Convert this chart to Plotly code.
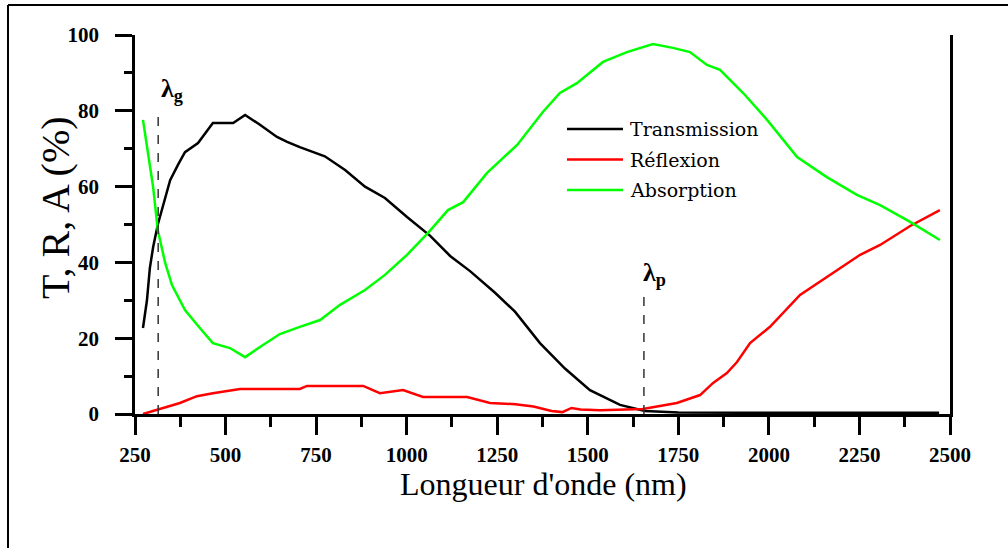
import plotly.graph_objects as go

# ---------------- data ----------------
wl_T = [272, 283, 291, 300, 313, 333, 347, 370, 388, 424, 465, 521, 554, 595, 642, 670, 705,
        774, 830, 885, 940, 1001, 1065, 1120, 1175, 1244, 1299, 1368, 1437, 1506, 1589, 1658,
        1750, 2000, 2250, 2470]
trans = [22.7, 30, 38.5, 44, 50, 56.5, 61.7, 66, 69.1, 71.5, 76.8, 76.8, 78.9, 76.3, 73.1, 71.8, 70.4,
         68.0, 64.4, 60, 57, 52, 47, 41.7, 37.7, 32, 27, 18.7, 12, 6.3, 2.4, 0.8,
         0.4, 0.3, 0.3, 0.3]

wl_R = [272, 374, 421, 465, 540, 603, 705, 725, 880, 926, 990, 1045, 1167, 1230, 1300, 1350,
        1400, 1430, 1455, 1480, 1534, 1652, 1746, 1810, 1846, 1884, 1912, 1948, 2003, 2086,
        2169, 2252, 2307, 2390, 2472]
refl = [0, 2.9, 4.7, 5.5, 6.6, 6.6, 6.6, 7.4, 7.4, 5.5, 6.3, 4.5, 4.5, 2.9, 2.6, 2.0,
        0.8, 0.5, 1.6, 1.2, 1.0, 1.3, 2.9, 5.0, 8.2, 10.8, 13.7, 18.7, 23, 31.4,
        36.7, 42, 44.6, 49.6, 53.8]

wl_A = [272, 300, 313, 333, 352, 388, 429, 465, 512, 554, 595, 650, 705, 761, 816, 885, 940,
        1001, 1059, 1114, 1156, 1222, 1305, 1376, 1423, 1470, 1542, 1608, 1680, 1735, 1782,
        1829, 1865, 1929, 1995, 2078, 2160, 2243, 2307, 2390, 2472]
absor = [77.6, 59.9, 48.5, 40, 34, 27.4, 22.7, 18.7, 17.4, 15, 17.7, 21.1, 23, 24.8, 28.8, 32.7, 36.7,
         42, 47.8, 53.8, 55.9, 63.6, 71, 79.7, 84.7, 87.3, 92.9, 95.5, 97.6, 96.6, 95.5,
         92.1, 90.8, 84.7, 77.6, 67.8, 62.5, 57.8, 55.1, 50.7, 45.9]

series_names = ["Transmission", "Réflexion", "Absorption"]
series_colors = ["#000000", "#ff0000", "#00ff00"]

x_ticks = [250, 500, 750, 1000, 1250, 1500, 1750, 2000, 2250, 2500]
y_ticks = [0, 20, 40, 60, 80, 100]

lambda_g = 314      # nm
lambda_g_top = 79.4
lambda_p = 1655     # nm
lambda_p_top = 31.9

# ---------------- layout geometry (pixels) ----------------
W, H = 1008, 548
L, R, T, B = 135, 950, 35, 414
SERIF = "'Liberation Serif', 'Times New Roman', Times, serif"


def px(xp):
    return (xp - L) / (R - L)


def py(yp):
    return (B - yp) / (B - T)


fig = go.Figure()
for xs, ys, nm, col in zip([wl_T, wl_R, wl_A], [trans, refl, absor], series_names, series_colors):
    fig.add_trace(go.Scatter(x=xs, y=ys, name=nm, mode="lines",
                             line=dict(color=col, width=2.5), showlegend=False))

tickfont = dict(family=SERIF, size=21, color="black", weight="bold")

fig.update_layout(
    width=W, height=H,
    margin=dict(l=L, r=W - R, t=T, b=H - B, pad=0),
    paper_bgcolor="white", plot_bgcolor="white",
    font=dict(family=SERIF),
    xaxis=dict(range=[250, 2500], tickvals=x_ticks, ticks="outside", ticklen=18, tickwidth=2.5,
               tickcolor="black", showline=True, linewidth=2.5, linecolor="black",
               showgrid=False, zeroline=False, tickfont=tickfont, ticklabelstandoff=2,
               minor=dict(ticks="outside", ticklen=10, tickwidth=2.5, tickcolor="black",
                          dtick=125, tick0=250, showgrid=False)),
    xaxis2=dict(range=[250, 2500], overlaying="x", side="top", anchor="y",
                tickvals=x_ticks, ticks="inside", ticklen=17, tickwidth=2.5, tickcolor="black",
                showline=True, linewidth=2.5, linecolor="black", showgrid=False,
                zeroline=False, showticklabels=False,
                minor=dict(ticks="inside", ticklen=9, tickwidth=2.5, tickcolor="black",
                           dtick=125, tick0=250, showgrid=False)),
    yaxis=dict(range=[0, 100], tickvals=y_ticks, ticks="outside", ticklen=17, tickwidth=2.5,
               tickcolor="black", showline=True, linewidth=2.5, linecolor="black", mirror=True,
               showgrid=False, zeroline=False, tickfont=tickfont, ticklabelstandoff=12,
               minor=dict(ticks="outside", ticklen=8, tickwidth=2.5, tickcolor="black",
                          dtick=10, tick0=0, showgrid=False)),
    showlegend=False,
)

# axis titles
fig.add_annotation(text="Longueur d'onde (nm)", xref="paper", yref="paper",
                   x=px(543), y=py(484), xanchor="center", yanchor="middle", showarrow=False,
                   font=dict(family=SERIF, size=32, color="black"))
fig.add_annotation(text="T, R, A (%)", xref="paper", yref="paper", textangle=-90,
                   x=px(55), y=py(208), xanchor="center", yanchor="middle", showarrow=False,
                   font=dict(family=SERIF, size=40, color="black"))

# lambda markers
fig.add_shape(type="line", xref="x", yref="y", x0=lambda_g, x1=lambda_g, y0=0, y1=lambda_g_top,
              line=dict(color="#333333", width=1.5, dash="dash"))
fig.add_shape(type="line", xref="x", yref="y", x0=lambda_p, x1=lambda_p, y0=0, y1=lambda_p_top,
              line=dict(color="#333333", width=1.5, dash="dash"))
fig.add_annotation(text="<b>λ<sub>g</sub></b>", xref="paper", yref="paper",
                   x=px(159), y=py(90), xanchor="left", yanchor="middle", showarrow=False,
                   font=dict(family=SERIF, size=26, color="black"))
fig.add_annotation(text="<b>λ<sub>p</sub></b>", xref="paper", yref="paper",
                   x=px(641), y=py(274), xanchor="left", yanchor="middle", showarrow=False,
                   font=dict(family=SERIF, size=26, color="black"))

# legend (drawn manually so the sample lines match the reference length)
for i, (nm, col) in enumerate(zip(series_names, series_colors)):
    yc = 129 + i * 30.5
    fig.add_shape(type="line", xref="paper", yref="paper", x0=px(567), x1=px(623),
                  y0=py(yc), y1=py(yc), line=dict(color=col, width=2.5))
    fig.add_annotation(text=nm, xref="paper", yref="paper", x=px(628), y=py(yc),
                       xanchor="left", yanchor="middle", showarrow=False,
                       font=dict(family="DejaVu Serif", size=19, color="black"))

# outer frame (left and top edges)
fig.add_shape(type="line", xref="paper", yref="paper", x0=px(8), x1=px(8), y0=py(548), y1=py(5),
              line=dict(color="black", width=2))
fig.add_shape(type="line", xref="paper", yref="paper", x0=px(8), x1=px(1008), y0=py(5), y1=py(5),
              line=dict(color="black", width=2))

fig.write_html("out.html")
